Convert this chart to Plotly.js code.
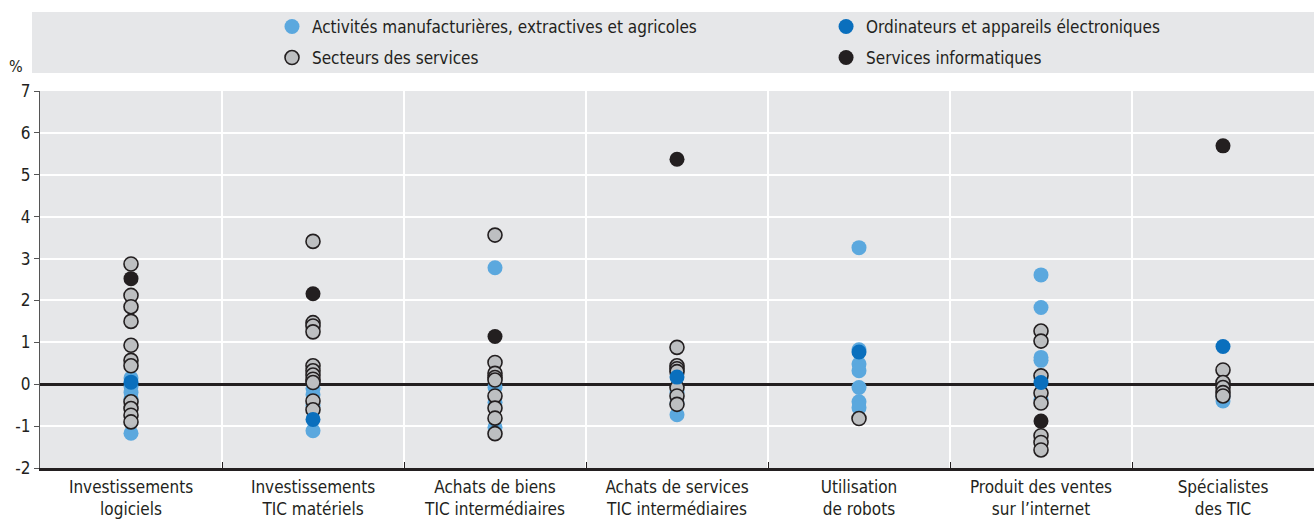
<!DOCTYPE html>
<html>
<head>
<meta charset="utf-8">
<script src="https://cdn.plot.ly/plotly-3.0.1.min.js"></script>
<style>html,body{margin:0;padding:0;background:#fff}#chart{width:1314px;height:521px}</style>
</head>
<body>
<div id="chart"></div>
<script>
const categories = [
  "Investissements<br>logiciels",
  "Investissements<br>TIC matériels",
  "Achats de biens<br>TIC intermédiaires",
  "Achats de services<br>TIC intermédiaires",
  "Utilisation<br>de robots",
  "Produit des ventes<br>sur l’internet",
  "Spécialistes<br>des TIC"
];
const seriesNames = [
  "Activités manufacturières, extractives et agricoles",
  "Ordinateurs et appareils électroniques",
  "Secteurs des services",
  "Services informatiques"
];
// values per category (one inner array per category)
const manufValues = [
  [0.15, -0.05, -0.2, -0.35, -1.17],
  [-0.1, -0.25, -0.5, -1.11],
  [2.78, -0.08, -0.43, -1.03],
  [-0.2, -0.45, -0.73],
  [3.26, 0.82, 0.48, 0.32, -0.08, -0.42, -0.56],
  [2.61, 1.83, 0.64, 0.57, -0.36],
  [-0.3, -0.4]
];
const computersValues = [
  [0.05],
  [-0.84],
  [],
  [0.17],
  [0.77],
  [0.04],
  [0.9]
];
const servicesValues = [
  [2.87, 2.12, 1.85, 1.5, 0.93, 0.57, 0.44, -0.42, -0.58, -0.74, -0.9],
  [3.41, 1.47, 1.39, 1.25, 0.44, 0.32, 0.22, 0.12, 0.04, -0.4, -0.61],
  [3.56, 0.52, 0.26, 0.16, 0.1, -0.28, -0.57, -0.81, -1.18],
  [0.88, 0.44, 0.37, 0.3, -0.08, -0.28, -0.48],
  [-0.82],
  [1.27, 1.03, 0.2, -0.21, -0.45, -1.23, -1.39, -1.57],
  [0.34, 0.04, -0.08, -0.2, -0.28]
];
const itServicesValues = [
  [2.52],
  [2.16],
  [1.14],
  [5.37],
  [],
  [-0.88],
  [5.69]
];
const yTicks = [-2, -1, 0, 1, 2, 3, 4, 5, 6, 7];

function flatten(vals) {
  const x = [], y = [];
  vals.forEach((arr, i) => arr.forEach(v => { x.push(categories[i]); y.push(v); }));
  return {x, y};
}

const FONT = '"DejaVu Sans Condensed", "Liberation Sans Narrow", sans-serif';
const DARK = '#231f20';

const m = flatten(manufValues), c = flatten(computersValues),
      s = flatten(servicesValues), it = flatten(itServicesValues);

const traces = [
  {name: seriesNames[0], x: m.x, y: m.y, type: 'scatter', mode: 'markers', legend: 'legend',
   marker: {size: 15, color: '#5ba8de', line: {width: 0}}},
  {name: seriesNames[2], x: s.x, y: s.y, type: 'scatter', mode: 'markers', legend: 'legend3',
   marker: {size: 14, color: '#bdbfc1', line: {width: 1.6, color: DARK}}},
  {name: seriesNames[1], x: c.x, y: c.y, type: 'scatter', mode: 'markers', legend: 'legend2',
   marker: {size: 15, color: '#0a6fbd', line: {width: 0}}},
  {name: seriesNames[3], x: it.x, y: it.y, type: 'scatter', mode: 'markers', legend: 'legend4',
   marker: {size: 15, color: DARK, line: {width: 0}}}
];

const legendCommon = {
  orientation: 'h', xanchor: 'left', yanchor: 'middle',
  bgcolor: 'rgba(0,0,0,0)',
  font: {family: FONT, size: 17, color: DARK}, itemclick: false
};
const row1 = 1.1698, row2 = 1.0875, col1 = 0.1821, col2 = 0.617;

const layout = {
  width: 1314, height: 521,
  margin: {l: 40, r: 0, t: 91, b: 53},
  paper_bgcolor: '#ffffff',
  plot_bgcolor: '#e6e7e9',
  font: {family: FONT, size: 16, color: DARK},
  showlegend: true,
  legend: Object.assign({}, legendCommon, {x: col1, y: row1}),
  legend2: Object.assign({}, legendCommon, {x: col2, y: row1}),
  legend3: Object.assign({}, legendCommon, {x: col1, y: row2}),
  legend4: Object.assign({}, legendCommon, {x: col2, y: row2}),
  xaxis: {
    type: 'category', categoryorder: 'array', categoryarray: categories,
    range: [-0.5, 6.5], tickson: 'boundaries',
    showgrid: true, gridcolor: '#ffffff', gridwidth: 2,
    ticks: 'inside', ticklen: 6, tickcolor: DARK, tickwidth: 1,
    ticklabelstandoff: 2,
    showline: true, linecolor: DARK, linewidth: 2.5,
    tickfont: {family: FONT, size: 17, color: DARK},
    zeroline: false, fixedrange: true
  },
  yaxis: {
    range: [-2, 7], tickvals: yTicks, ticktext: yTicks.map(String),
    showgrid: true, gridcolor: '#ffffff', gridwidth: 2,
    zeroline: true, zerolinecolor: DARK, zerolinewidth: 3,
    showline: true, linecolor: '#555', linewidth: 1,
    ticks: 'outside', ticklen: 5, tickcolor: '#555',
    tickfont: {family: FONT, size: 17, color: DARK},
    fixedrange: true
  },
  shapes: [{
    type: 'rect', xref: 'paper', yref: 'paper', layer: 'below',
    x0: -0.0063, x1: 1, y0: 1.0477, y1: 1.2095,
    fillcolor: '#e6e7e9', line: {width: 0}
  }],
  annotations: [{
    text: '%', xref: 'paper', yref: 'paper', x: -0.0185, y: 1.066,
    xanchor: 'center', yanchor: 'middle', showarrow: false,
    font: {family: FONT, size: 16, color: DARK}
  }]
};

Plotly.newPlot('chart', traces, layout, {displayModeBar: false, staticPlot: true});
</script>
</body>
</html>
